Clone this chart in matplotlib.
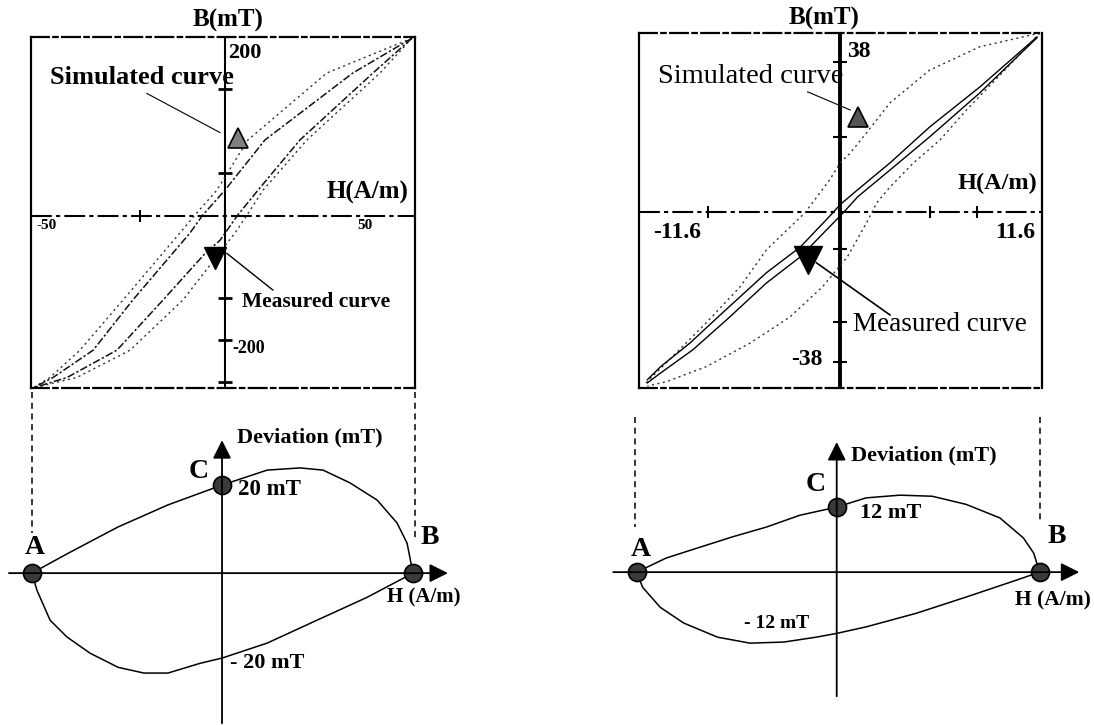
import numpy as np
import matplotlib
matplotlib.use('Agg')
import matplotlib.pyplot as plt

plt.rcParams['font.family'] = ['Liberation Serif', 'DejaVu Serif']

# ---- left loop (H in A/m, B in mT) ----
left_outer_up_H = [66.8, 36.4, 8.2, -2.9, -10.7, -16.1, -36.4, -51.8, -62.5, -68.6]
left_outer_up_B = [287, 231, 123, 42, 2, -27, -135, -216, -260, -277]
left_outer_lo_H = [66.8, 55.4, 29.3, 13.6, 7.9, 3.6, -15.0, -33.9, -52.9, -68.6]
left_outer_lo_B = [287, 231, 123, 42, 2, -27, -135, -216, -260, -277]
left_inner_up_H = [66.8, 45.7, 14.3, 0.0, -7.9, -12.5, -32.9, -47.1, -61.4, -68.6]
left_inner_up_B = [287, 231, 123, 42, 2, -27, -135, -216, -260, -277]
left_inner_lo_H = [66.8, 52.9, 26.8, 11.8, 4.6, -1.8, -7.1, -22.1, -38.6, -56.4, -68.6]
left_inner_lo_B = [287, 231, 123, 42, 2, -39, -60, -135, -216, -260, -277]
left_b_ticks = [205, 69, -132, -200, -268]
left_h_ticks = [-30.4, 0]

# ---- right loop ----
right_outer_up_H = [13.6, 9.5, 6.1, 3.4, 1.8, 0.7, 0.0, -0.7, -2.4, -5.0, -6.8, -9.1, -11.4, -13.2]
right_outer_up_B = [45.3, 41.8, 35.9, 27.6, 20.0, 14.9, 12.4, 8.1, -0.3, -9.6, -19.0, -28.1, -36.7, -43.3]
right_outer_lo_H = [13.6, 10.9, 8.6, 6.8, 5.0, 3.4, 2.5, 1.8, 0.5, -1.2, -3.4, -6.1, -9.1, -11.8, -13.1]
right_outer_lo_B = [45.3, 34.7, 25.8, 18.2, 12.4, 6.3, 2.3, -2.8, -11.4, -19.0, -26.6, -33.2, -39.2, -43.0, -44.1]
right_inner_up_H = [13.4, 9.5, 6.1, 3.4, 1.2, 0.0, -0.5, -2.7, -5.0, -8.0, -10.2, -12.2, -13.1]
right_inner_up_B = [44.3, 31.6, 21.5, 12.4, 5.6, 1.8, -0.3, -8.9, -15.4, -25.6, -33.2, -39.2, -42.5]
right_inner_lo_H = [13.4, 9.5, 6.1, 3.4, 1.2, 0.2, -2.7, -5.0, -7.7, -10.0, -12.2, -13.1]
right_inner_lo_B = [44.1, 30.1, 19.0, 10.6, 3.8, -0.3, -11.4, -18.0, -27.3, -34.9, -40.8, -43.3]
right_b_ticks = [38, 19, -9.5, -28, -38]
right_h_ticks = [-9.0, 6.1, 9.3]

# ---- deviation curves (H, deviation in mT) ----
dev_left_up_H = [-67.9, -55.0, -37.1, -19.3, 0.0, 16.1, 27.9, 36.1, 45.7, 55.4, 62.5, 66.1, 68.2]
dev_left_up_D = [0, 4.5, 10.5, 15.5, 20.0, 23.4, 23.9, 23.4, 20.5, 16.6, 11.4, 6.8, 0]
dev_left_lo_H = [-67.9, -66.1, -61.4, -55.4, -47.1, -37.1, -27.9, -19.3, -7.9, 0.0, 16.1, 33.9, 51.8, 68.2]
dev_left_lo_D = [0, -3.9, -10.7, -14.5, -18.2, -21.4, -22.7, -22.7, -20.5, -19.3, -15.9, -10.7, -5.5, 0]
dev_left_pts_H = [-67.9, 68.2, 0.0]
dev_left_pts_D = [0, 0, 20.0]

dev_right_up_H = [-13.6, -11.6, -9.3, -7.1, -4.8, -2.5, 0.0, 2.0, 4.3, 6.5, 8.8, 11.1, 12.7, 13.4, 13.8]
dev_right_up_D = [0, 2.6, 4.6, 6.5, 8.3, 10.5, 12.0, 13.7, 14.2, 14.0, 12.5, 10.0, 6.3, 3.5, 0]
dev_right_lo_H = [-13.6, -13.2, -12.0, -10.4, -8.1, -5.9, -3.6, -1.4, 0.0, 2.0, 5.4, 8.8, 12.2, 13.8]
dev_right_lo_D = [0, -2.8, -6.5, -9.4, -12.0, -13.1, -12.9, -12.0, -11.3, -10.1, -7.6, -4.6, -1.5, 0]
dev_right_pts_H = [-13.6, 13.8, 0.0]
dev_right_pts_D = [0, 0, 12.0]

W, Hgt = 1094, 725


def px_rect(x0, y0, x1, y1):
    # pixel box (from top-left) -> figure fraction rect
    return [x0 / W, 1 - y1 / Hgt, (x1 - x0) / W, (y1 - y0) / Hgt]


fig = plt.figure(figsize=(10.94, 7.25), dpi=100)
fig.patch.set_facecolor('white')

# ================= top left =================
ax = fig.add_axes(px_rect(31, 37, 415, 388))
ax.set_xlim(-69.3, 67.9)
ax.set_ylim(-277, 289)
ax.set_xticks([])
ax.set_yticks([])
for s in ax.spines.values():
    s.set_linewidth(1.6)
ax.spines['top'].set_linestyle((0, (8, 2, 2, 2)))
ax.spines['bottom'].set_linestyle((0, (8, 2, 2, 2)))
ax.axhline(0, color='k', lw=1.5, ls=(0, (10, 2, 2, 2)))
ax.axvline(0, color='k', lw=1.5)
ax.plot(np.zeros(len(left_b_ticks)), left_b_ticks, ls='none', marker='_', ms=10, mew=2, color='k')
ax.plot(left_h_ticks, np.zeros(len(left_h_ticks)), ls='none', marker='|', ms=8, mew=1.5, color='k')
ax.plot(left_outer_up_H, left_outer_up_B, color='#333333', lw=1.0, ls=(0, (1.5, 2.5)))
ax.plot(left_outer_lo_H, left_outer_lo_B, color='#333333', lw=1.0, ls=(0, (1.5, 2.5)))
ax.plot(left_inner_up_H, left_inner_up_B, color='#111111', lw=1.1, ls=(0, (5, 1.5, 1.5, 1.5)))
ax.plot(left_inner_lo_H, left_inner_lo_B, color='#111111', lw=1.1, ls=(0, (5, 1.5, 1.5, 1.5)))
ax.text(1, 316, 'B(mT)', ha='center', va='center', fontsize=18, fontweight='bold', clip_on=False)
ax.text(1.2, 263, '200', ha='left', va='center', fontsize=16, fontweight='bold')
ax.text(-63.6, -14.5, '-50', ha='center', va='center', fontsize=11, fontweight='bold')
ax.text(50, -14.5, '50', ha='center', va='center', fontsize=11, fontweight='bold')
ax.text(2.5, -214, '-200', ha='left', va='center', fontsize=13, fontweight='bold')
ax.text(65.4, 38.7, 'H(A/m)', ha='right', va='center', fontsize=18, fontweight='bold')
ax.text(-62.5, 224, 'Simulated curve', ha='left', va='center', fontsize=19, fontweight='bold')
ax.text(6.1, -139, 'Measured curve', ha='left', va='center', fontsize=15.5, fontweight='bold')
ax.plot([-27.9, -1.8], [198, 135], color='k', lw=0.8)
ax.plot([4.6], [126], marker='^', ms=15, mfc='#808080', mec='k', mew=1.2)
ax.plot([17.1, 0.7], [-119, -60], color='k', lw=1.0)
ax.plot([-3.6], [-68], marker='v', ms=16, color='k')

# ================= top right =================
ax = fig.add_axes(px_rect(639, 33, 1042, 388))
ax.set_xlim(-13.67, 13.74)
ax.set_ylim(-44.6, 45.3)
ax.set_xticks([])
ax.set_yticks([])
for s in ax.spines.values():
    s.set_linewidth(1.6)
ax.spines['top'].set_linestyle((0, (8, 2, 2, 2)))
ax.spines['bottom'].set_linestyle((0, (8, 2, 2, 2)))
ax.axhline(0, color='k', lw=1.5, ls=(0, (10, 2, 2, 2)))
ax.axvline(0, color='k', lw=2.8)
ax.plot(np.zeros(len(right_b_ticks)), right_b_ticks, ls='none', marker='_', ms=10, mew=1.5, color='k')
ax.plot(right_h_ticks, np.zeros(len(right_h_ticks)), ls='none', marker='|', ms=8, mew=1.5, color='k')
ax.plot(right_outer_up_H, right_outer_up_B, color='#333333', lw=1.0, ls=(0, (1.5, 2.5)))
ax.plot(right_outer_lo_H, right_outer_lo_B, color='#333333', lw=1.0, ls=(0, (1.5, 2.5)))
ax.plot(right_inner_up_H, right_inner_up_B, color='k', lw=1.0)
ax.plot(right_inner_lo_H, right_inner_lo_B, color='k', lw=1.0)
ax.text(-1.1, 49.1, 'B(mT)', ha='center', va='center', fontsize=18, fontweight='bold', clip_on=False)
ax.text(0.5, 40.5, '38', ha='left', va='center', fontsize=17, fontweight='bold')
ax.text(-1.2, -37.5, '-38', ha='right', va='center', fontsize=17, fontweight='bold')
ax.text(-12.7, -5.1, '-11.6', ha='left', va='center', fontsize=17, fontweight='bold')
ax.text(13.3, -5.1, '11.6', ha='right', va='center', fontsize=17, fontweight='bold')
ax.text(13.4, 7.3, 'H(A/m)', ha='right', va='center', fontsize=17.5, fontweight='bold')
ax.text(-12.4, 34.2, 'Simulated curve', ha='left', va='center', fontsize=20.5)
ax.text(0.9, -28.6, 'Measured curve', ha='left', va='center', fontsize=19.5)
ax.plot([-2.2, 0.7], [30.4, 25.8], color='k', lw=0.8)
ax.plot([1.2], [24.1], marker='^', ms=15, mfc='#555555', mec='k', mew=1.2)
ax.plot([3.4, -1.6], [-26.1, -12.9], color='k', lw=1.2)
ax.plot([-2.2], [-12.2], marker='v', ms=20, color='k')


def deviation_panel(rect, xlim, ylim, h_axis, v_axis, up_H, up_D, lo_H, lo_D,
                    pts_H, pts_D, dashes, labels):
    ax = fig.add_axes(rect)
    ax.set_xlim(*xlim)
    ax.set_ylim(*ylim)
    ax.axis('off')
    arrow = dict(arrowstyle='-|>', mutation_scale=28, color='k', lw=1.3,
                 shrinkA=0, shrinkB=0)
    ax.annotate('', xy=(h_axis[1], 0), xytext=(h_axis[0], 0), arrowprops=arrow)
    ax.annotate('', xy=(0, v_axis[1]), xytext=(0, v_axis[0]), arrowprops=arrow)
    for xd, y0, y1 in dashes:
        ax.plot([xd, xd], [y0, y1], color='k', lw=1.1, ls=(0, (4, 3)))
    ax.plot(up_H, up_D, color='k', lw=1.1)
    ax.plot(lo_H, lo_D, color='k', lw=1.1)
    ax.plot(pts_H, pts_D, ls='none', marker='o', ms=13, mfc='#3a3a3a', mec='k', mew=1.2)
    for x, y, s, kw in labels:
        ax.text(x, y, s, va='center', **kw)


bold = dict(fontweight='bold')
deviation_panel(px_rect(0, 390, 460, 725), (-79.3, 85.0), (-34.5, 41.6),
                (-76.1, 80.7), (-34.1, 30.2),
                dev_left_up_H, dev_left_up_D, dev_left_lo_H, dev_left_lo_D,
                dev_left_pts_H, dev_left_pts_D,
                [(-67.9, 41.2, 9.1), (68.9, 41.2, 8.0)],
                [(-66.8, 5.9, 'A', dict(ha='center', fontsize=20, **bold)),
                 (74.3, 8.0, 'B', dict(ha='center', fontsize=20, **bold)),
                 (-8.2, 23.0, 'C', dict(ha='center', fontsize=20, **bold)),
                 (5.7, 18.9, '20 mT', dict(ha='left', fontsize=16.5, **bold)),
                 (2.9, -20.5, '- 20 mT', dict(ha='left', fontsize=16, **bold)),
                 (5.4, 30.7, 'Deviation (mT)', dict(ha='left', fontsize=16, **bold)),
                 (58.9, -5.5, 'H (A/m)', dict(ha='left', fontsize=15, **bold))])

deviation_panel(px_rect(600, 390, 1094, 725), (-16.1, 17.5), (-28.2, 33.6),
                (-15.2, 16.5), (-22.9, 24.0),
                dev_right_up_H, dev_right_up_D, dev_right_lo_H, dev_right_lo_D,
                dev_right_pts_H, dev_right_pts_D,
                [(-13.7, 28.6, 8.3), (13.8, 28.6, 9.6)],
                [(-13.3, 4.1, 'A', dict(ha='center', fontsize=20, **bold)),
                 (15.0, 6.5, 'B', dict(ha='center', fontsize=20, **bold)),
                 (-1.4, 16.1, 'C', dict(ha='center', fontsize=20, **bold)),
                 (1.6, 10.9, '12 mT', dict(ha='left', fontsize=16, **bold)),
                 (-6.3, -9.4, '- 12 mT', dict(ha='left', fontsize=14, **bold)),
                 (1.0, 21.6, 'Deviation (mT)', dict(ha='left', fontsize=16, **bold)),
                 (12.1, -5.2, 'H (A/m)', dict(ha='left', fontsize=15.5, **bold))])

fig.savefig('out.png', dpi=100, facecolor='white')
